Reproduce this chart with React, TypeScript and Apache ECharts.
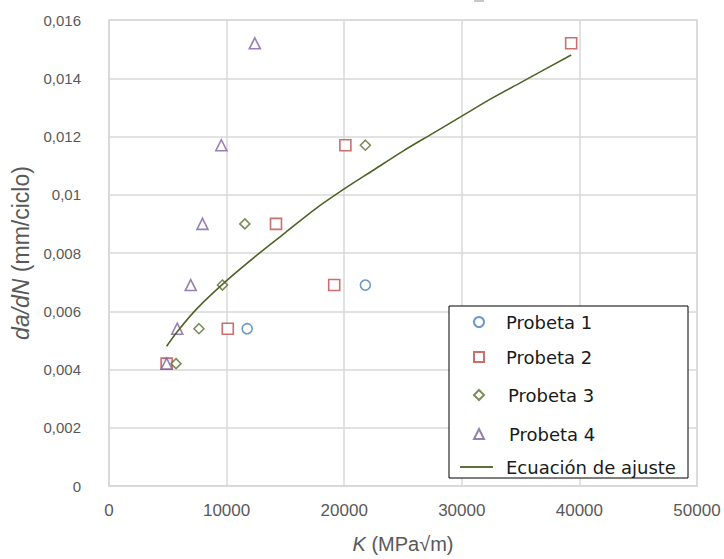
import React, { useEffect, useRef } from "react";
import * as echarts from "echarts";

const probeta1K = [4900, 11750, 21800];
const probeta1V = [0.0042, 0.0054, 0.0069];
const probeta2K = [4900, 10100, 19150, 14200, 20100, 39300];
const probeta2V = [0.0042, 0.0054, 0.0069, 0.009, 0.0117, 0.0152];
const probeta3K = [5700, 7650, 9650, 11550, 21800];
const probeta3V = [0.0042, 0.0054, 0.0069, 0.009, 0.0117];
const probeta4K = [4900, 5800, 6950, 7950, 9550, 12400];
const probeta4V = [0.0042, 0.0054, 0.0069, 0.009, 0.0117, 0.0152];
const ajusteK = [4900, 5800, 7500, 10000, 12500, 15000, 17500, 20000, 22500, 25000, 27500, 30000, 32500, 35000, 39300];
const ajusteV = [0.0048, 0.0053, 0.0061, 0.00705, 0.0079, 0.0087, 0.0095, 0.0102, 0.01085, 0.0115, 0.0121, 0.0127, 0.0133, 0.01385, 0.0148];
const seriesNames = ["Probeta 1", "Probeta 2", "Probeta 3", "Probeta 4", "Ecuación de ajuste"];

const pairs = (k: number[], v: number[]) => k.map((x, i) => [x, v[i]]);

export default function App() {
  const ref = useRef<HTMLDivElement>(null);
  useEffect(() => {
    document.body.style.margin = "0";
    const chart = echarts.init(ref.current!, null, { renderer: "svg" });
    const grey = "#595959";
    const gridCol = "#d9d9d9";
    const scatter = (name: string, data: number[][], symbol: string, color: string, size: number) => ({
      name,
      type: "scatter",
      data,
      symbol,
      symbolSize: size,
      itemStyle: { color: "#ffffff", borderColor: color, borderWidth: 1.6 },
      z: 3,
    });
    const legendText = (padLeft: number) => ({
      color: "#1a1a1a",
      fontSize: 18,
      lineHeight: 20,
      fontFamily: "DejaVu Sans",
      padding: [0, 0, 0, padLeft],
    });
    const rowCenters = [322, 357, 395, 434, 467];
    const textPads = [17, 17, 19, 20, 8];
    const legends = seriesNames.map((n, i) => {
      const isLine = i === 4;
      return {
        orient: "vertical",
        left: isLine ? 460 : 473,
        top: rowCenters[i] - 10,
        padding: 0,
        itemWidth: isLine ? 33 : 10,
        itemHeight: isLine ? 2 : 10,
        data: isLine ? [{ name: n, icon: "rect" }] : [n],
        textStyle: legendText(textPads[i]),
        z: 5,
      };
    });
    chart.setOption({
      animation: false,
      backgroundColor: "#ffffff",
      grid: {
        left: 109,
        right: 27,
        top: 20,
        bottom: 73,
        show: true,
        borderColor: gridCol,
        borderWidth: 1.5,
      },
      xAxis: {
        type: "value",
        min: 0,
        max: 50000,
        interval: 10000,
        axisLine: { show: true, lineStyle: { color: gridCol, width: 1.5 } },
        axisTick: { show: false },
        splitLine: { show: true, lineStyle: { color: gridCol, width: 1.5 } },
        axisLabel: {
          color: grey,
          fontSize: 17,
          fontFamily: "Liberation Sans",
          margin: 16,
          formatter: (v: number) => String(v),
        },
        name: "{i|K} (MPa√m)",
        nameLocation: "middle",
        nameGap: 48,
        nameTextStyle: {
          color: grey,
          fontSize: 20,
          fontFamily: "Liberation Sans",
          rich: { i: { fontStyle: "italic", fontSize: 20, color: grey, fontFamily: "Liberation Sans" } },
        },
      },
      yAxis: {
        type: "value",
        min: 0,
        max: 0.016,
        interval: 0.002,
        axisLine: { show: true, lineStyle: { color: gridCol, width: 1.5 } },
        axisTick: { show: false },
        splitLine: { show: true, lineStyle: { color: gridCol, width: 1.5 } },
        axisLabel: {
          color: grey,
          fontSize: 15,
          fontFamily: "Liberation Sans",
          margin: 28,
          formatter: (v: number) => String(+v.toFixed(3)).replace(".", ","),
        },
        name: "{i|da/dN} (mm/ciclo)",
        nameLocation: "middle",
        nameGap: 65,
        nameTextStyle: {
          color: grey,
          fontSize: 23,
          fontFamily: "Liberation Sans",
          rich: { i: { fontStyle: "italic", fontSize: 23, color: grey, fontFamily: "Liberation Sans" } },
        },
      },
      legend: legends,
      graphic: {
        elements: [
          {
            type: "rect",
            shape: { x: 449, y: 306, width: 239, height: 172 },
            style: { fill: "#ffffff", stroke: "#000000", lineWidth: 1 },
            z: 4,
          },
          {
            type: "rect",
            shape: { x: 474, y: 0, width: 10, height: 2 },
            style: { fill: "#c8c8c8" },
            z: 4,
          },
        ],
      },
      series: [
        scatter(seriesNames[0], pairs(probeta1K, probeta1V), "circle", "#4a7ebb", 10),
        scatter(seriesNames[1], pairs(probeta2K, probeta2V), "rect", "#be4b48", 11),
        scatter(seriesNames[2], pairs(probeta3K, probeta3V), "diamond", "#5a7030", 10),
        scatter(seriesNames[3], pairs(probeta4K, probeta4V), "triangle", "#7d60a0", 11),
        {
          name: seriesNames[4],
          type: "line",
          data: pairs(ajusteK, ajusteV),
          smooth: 0.3,
          symbol: "none",
          showSymbol: false,
          lineStyle: { color: "#4f6228", width: 1.6 },
          itemStyle: { color: "#5b7040" },
          z: 4,
        },
      ],
    });
    return () => chart.dispose();
  }, []);
  return <div ref={ref} style={{ width: 724, height: 559 }} />;
}
